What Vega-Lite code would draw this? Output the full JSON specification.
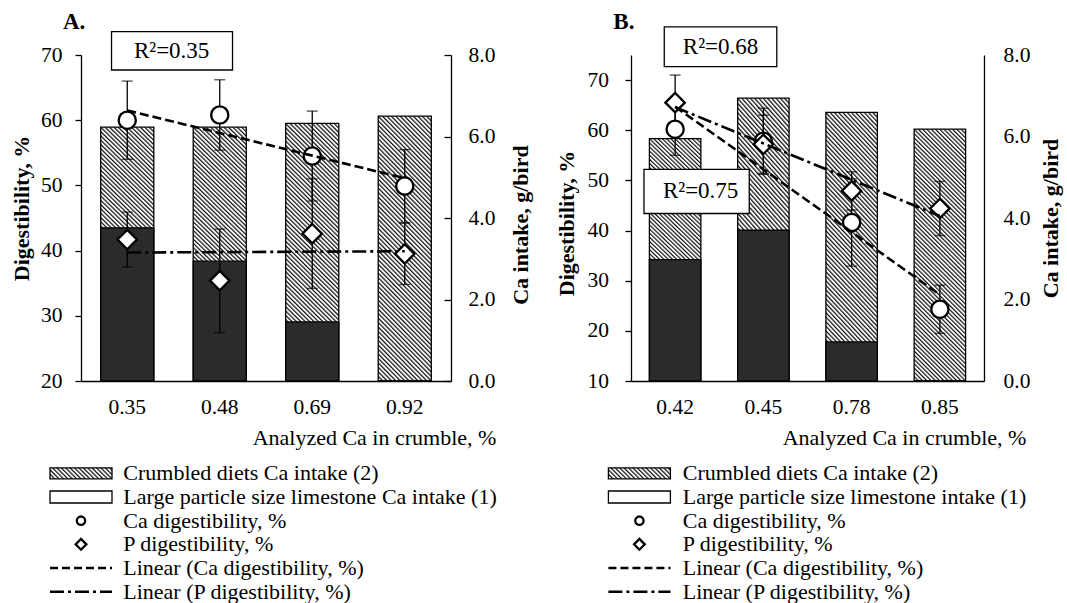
{
"$schema": "https://vega.github.io/schema/vega-lite/v6.json",
"autosize": {"type": "none"},
"padding": {"left": 81, "top": 55, "right": 986, "bottom": 548},
"background": "white",
"bounds": "flush",
"columns": 2,
"spacing": {"row": 80.5, "column": 180},
"config": {
  "font": "Liberation Serif",
  "view": {"stroke": null},
  "axis": {"domainColor": "#000", "domainWidth": 1.3, "tickColor": "#000", "tickWidth": 1.3, "labelColor": "#000", "titleColor": "#000", "labelFontSize": 21.5, "titleFontSize": 22, "grid": false, "labelFont": "Liberation Serif", "titleFont": "Liberation Serif", "labelOverlap": false},
  "text": {"color": "#000", "font": "Liberation Serif"}
},
"concat": [
  {
    "width": 370, "height": 326,
    "data": {"values": [
      {"ca": "0.35", "total": 6.23, "large": 3.76, "ca_dig": 60.0, "ca_lo": 54.0, "ca_hi": 66.0, "p_dig": 41.7, "p_lo": 37.5, "p_hi": 45.9},
      {"ca": "0.48", "total": 6.23, "large": 2.94, "ca_dig": 60.8, "ca_lo": 55.4, "ca_hi": 66.2, "p_dig": 35.4, "p_lo": 27.4, "p_hi": 43.3},
      {"ca": "0.69", "total": 6.32, "large": 1.45, "ca_dig": 54.5, "ca_lo": 47.6, "ca_hi": 61.4, "p_dig": 42.6, "p_lo": 34.2, "p_hi": 51.0},
      {"ca": "0.92", "total": 6.50, "large": 0, "ca_dig": 49.9, "ca_lo": 44.3, "ca_hi": 55.5, "p_dig": 39.5, "p_lo": 34.8, "p_hi": 44.2}
    ]},
    "layer": [
      {"layer": [
        {"mark": {"type": "bar", "stroke": "#000", "strokeWidth": 1.3, "fill": {"gradient": "linear", "x1": 0, "y1": 1, "x2": 0.3312, "y2": -0.6248, "stops": [
{"offset":0,"color":"#111"},{"offset":0.005,"color":"#fff"},{"offset":0.007,"color":"#fff"},
{"offset":0.01,"color":"#111"},{"offset":0.015,"color":"#fff"},{"offset":0.017,"color":"#fff"},
{"offset":0.02,"color":"#111"},{"offset":0.025,"color":"#fff"},{"offset":0.027,"color":"#fff"},
{"offset":0.03,"color":"#111"},{"offset":0.035,"color":"#fff"},{"offset":0.037,"color":"#fff"},
{"offset":0.04,"color":"#111"},{"offset":0.045,"color":"#fff"},{"offset":0.047,"color":"#fff"},
{"offset":0.05,"color":"#111"},{"offset":0.055,"color":"#fff"},{"offset":0.057,"color":"#fff"},
{"offset":0.06,"color":"#111"},{"offset":0.065,"color":"#fff"},{"offset":0.067,"color":"#fff"},
{"offset":0.07,"color":"#111"},{"offset":0.075,"color":"#fff"},{"offset":0.077,"color":"#fff"},
{"offset":0.08,"color":"#111"},{"offset":0.085,"color":"#fff"},{"offset":0.087,"color":"#fff"},
{"offset":0.09,"color":"#111"},{"offset":0.095,"color":"#fff"},{"offset":0.097,"color":"#fff"},
{"offset":0.1,"color":"#111"},{"offset":0.105,"color":"#fff"},{"offset":0.107,"color":"#fff"},
{"offset":0.11,"color":"#111"},{"offset":0.115,"color":"#fff"},{"offset":0.117,"color":"#fff"},
{"offset":0.12,"color":"#111"},{"offset":0.125,"color":"#fff"},{"offset":0.127,"color":"#fff"},
{"offset":0.13,"color":"#111"},{"offset":0.135,"color":"#fff"},{"offset":0.137,"color":"#fff"},
{"offset":0.14,"color":"#111"},{"offset":0.145,"color":"#fff"},{"offset":0.147,"color":"#fff"},
{"offset":0.15,"color":"#111"},{"offset":0.155,"color":"#fff"},{"offset":0.157,"color":"#fff"},
{"offset":0.16,"color":"#111"},{"offset":0.165,"color":"#fff"},{"offset":0.167,"color":"#fff"},
{"offset":0.17,"color":"#111"},{"offset":0.175,"color":"#fff"},{"offset":0.177,"color":"#fff"},
{"offset":0.18,"color":"#111"},{"offset":0.185,"color":"#fff"},{"offset":0.187,"color":"#fff"},
{"offset":0.19,"color":"#111"},{"offset":0.195,"color":"#fff"},{"offset":0.197,"color":"#fff"},
{"offset":0.2,"color":"#111"},{"offset":0.205,"color":"#fff"},{"offset":0.207,"color":"#fff"},
{"offset":0.21,"color":"#111"},{"offset":0.215,"color":"#fff"},{"offset":0.217,"color":"#fff"},
{"offset":0.22,"color":"#111"},{"offset":0.225,"color":"#fff"},{"offset":0.227,"color":"#fff"},
{"offset":0.23,"color":"#111"},{"offset":0.235,"color":"#fff"},{"offset":0.237,"color":"#fff"},
{"offset":0.24,"color":"#111"},{"offset":0.245,"color":"#fff"},{"offset":0.247,"color":"#fff"},
{"offset":0.25,"color":"#111"},{"offset":0.255,"color":"#fff"},{"offset":0.257,"color":"#fff"},
{"offset":0.26,"color":"#111"},{"offset":0.265,"color":"#fff"},{"offset":0.267,"color":"#fff"},
{"offset":0.27,"color":"#111"},{"offset":0.275,"color":"#fff"},{"offset":0.277,"color":"#fff"},
{"offset":0.28,"color":"#111"},{"offset":0.285,"color":"#fff"},{"offset":0.287,"color":"#fff"},
{"offset":0.29,"color":"#111"},{"offset":0.295,"color":"#fff"},{"offset":0.297,"color":"#fff"},
{"offset":0.3,"color":"#111"},{"offset":0.305,"color":"#fff"},{"offset":0.307,"color":"#fff"},
{"offset":0.31,"color":"#111"},{"offset":0.315,"color":"#fff"},{"offset":0.317,"color":"#fff"},
{"offset":0.32,"color":"#111"},{"offset":0.325,"color":"#fff"},{"offset":0.327,"color":"#fff"},
{"offset":0.33,"color":"#111"},{"offset":0.335,"color":"#fff"},{"offset":0.337,"color":"#fff"},
{"offset":0.34,"color":"#111"},{"offset":0.345,"color":"#fff"},{"offset":0.347,"color":"#fff"},
{"offset":0.35,"color":"#111"},{"offset":0.355,"color":"#fff"},{"offset":0.357,"color":"#fff"},
{"offset":0.36,"color":"#111"},{"offset":0.365,"color":"#fff"},{"offset":0.367,"color":"#fff"},
{"offset":0.37,"color":"#111"},{"offset":0.375,"color":"#fff"},{"offset":0.377,"color":"#fff"},
{"offset":0.38,"color":"#111"},{"offset":0.385,"color":"#fff"},{"offset":0.387,"color":"#fff"},
{"offset":0.39,"color":"#111"},{"offset":0.395,"color":"#fff"},{"offset":0.397,"color":"#fff"},
{"offset":0.4,"color":"#111"},{"offset":0.405,"color":"#fff"},{"offset":0.407,"color":"#fff"},
{"offset":0.41,"color":"#111"},{"offset":0.415,"color":"#fff"},{"offset":0.417,"color":"#fff"},
{"offset":0.42,"color":"#111"},{"offset":0.425,"color":"#fff"},{"offset":0.427,"color":"#fff"},
{"offset":0.43,"color":"#111"},{"offset":0.435,"color":"#fff"},{"offset":0.437,"color":"#fff"},
{"offset":0.44,"color":"#111"},{"offset":0.445,"color":"#fff"},{"offset":0.447,"color":"#fff"},
{"offset":0.45,"color":"#111"},{"offset":0.455,"color":"#fff"},{"offset":0.457,"color":"#fff"},
{"offset":0.46,"color":"#111"},{"offset":0.465,"color":"#fff"},{"offset":0.467,"color":"#fff"},
{"offset":0.47,"color":"#111"},{"offset":0.475,"color":"#fff"},{"offset":0.477,"color":"#fff"},
{"offset":0.48,"color":"#111"},{"offset":0.485,"color":"#fff"},{"offset":0.487,"color":"#fff"},
{"offset":0.49,"color":"#111"},{"offset":0.495,"color":"#fff"},{"offset":0.497,"color":"#fff"},
{"offset":0.5,"color":"#111"},{"offset":0.505,"color":"#fff"},{"offset":0.507,"color":"#fff"},
{"offset":0.51,"color":"#111"},{"offset":0.515,"color":"#fff"},{"offset":0.517,"color":"#fff"},
{"offset":0.52,"color":"#111"},{"offset":0.525,"color":"#fff"},{"offset":0.527,"color":"#fff"},
{"offset":0.53,"color":"#111"},{"offset":0.535,"color":"#fff"},{"offset":0.537,"color":"#fff"},
{"offset":0.54,"color":"#111"},{"offset":0.545,"color":"#fff"},{"offset":0.547,"color":"#fff"},
{"offset":0.55,"color":"#111"},{"offset":0.555,"color":"#fff"},{"offset":0.557,"color":"#fff"},
{"offset":0.56,"color":"#111"},{"offset":0.565,"color":"#fff"},{"offset":0.567,"color":"#fff"},
{"offset":0.57,"color":"#111"},{"offset":0.575,"color":"#fff"},{"offset":0.577,"color":"#fff"},
{"offset":0.58,"color":"#111"},{"offset":0.585,"color":"#fff"},{"offset":0.587,"color":"#fff"},
{"offset":0.59,"color":"#111"},{"offset":0.595,"color":"#fff"},{"offset":0.597,"color":"#fff"},
{"offset":0.6,"color":"#111"},{"offset":0.605,"color":"#fff"},{"offset":0.607,"color":"#fff"},
{"offset":0.61,"color":"#111"},{"offset":0.615,"color":"#fff"},{"offset":0.617,"color":"#fff"},
{"offset":0.62,"color":"#111"},{"offset":0.625,"color":"#fff"},{"offset":0.627,"color":"#fff"},
{"offset":0.63,"color":"#111"},{"offset":0.635,"color":"#fff"},{"offset":0.637,"color":"#fff"},
{"offset":0.64,"color":"#111"},{"offset":0.645,"color":"#fff"},{"offset":0.647,"color":"#fff"},
{"offset":0.65,"color":"#111"},{"offset":0.655,"color":"#fff"},{"offset":0.657,"color":"#fff"},
{"offset":0.66,"color":"#111"},{"offset":0.665,"color":"#fff"},{"offset":0.667,"color":"#fff"},
{"offset":0.67,"color":"#111"},{"offset":0.675,"color":"#fff"},{"offset":0.677,"color":"#fff"},
{"offset":0.68,"color":"#111"},{"offset":0.685,"color":"#fff"},{"offset":0.687,"color":"#fff"},
{"offset":0.69,"color":"#111"},{"offset":0.695,"color":"#fff"},{"offset":0.697,"color":"#fff"},
{"offset":0.7,"color":"#111"},{"offset":0.705,"color":"#fff"},{"offset":0.707,"color":"#fff"},
{"offset":0.71,"color":"#111"},{"offset":0.715,"color":"#fff"},{"offset":0.717,"color":"#fff"}
        ]}},
         "encoding": {
           "x": {"field": "ca", "type": "ordinal", "title": "Analyzed Ca in crumble, %", "scale": {"domain": ["0.35", "0.48", "0.69", "0.92"], "paddingInner": 0.426, "paddingOuter": 0.213},
                 "axis": {"orient": "bottom", "ticks": false, "labelPadding": 15, "labelAngle": 0, "titleX": 293, "titleY": 63, "titleAlign": "center", "titleBaseline": "alphabetic", "titleFontWeight": "normal", "titleFontSize": 22}},
           "y": {"field": "total", "type": "quantitative", "title": "Ca intake, g/bird", "scale": {"domain": [0, 8], "nice": false, "zero": true},
                 "axis": {"orient": "right", "values": [0, 2, 4, 6, 8], "format": ".1f", "tickSize": -7, "labelPadding": 24, "titleX": 69, "titleY": 169.6, "titleAngle": 270, "titleAlign": "center", "titleBaseline": "middle", "titleFontWeight": "bold"}}
         }},
        {"mark": {"type": "bar", "fill": "#2b2b2b", "stroke": "#000", "strokeWidth": 1.3},
         "encoding": {
           "x": {"field": "ca", "type": "ordinal", "title": "Analyzed Ca in crumble, %", "scale": {"domain": ["0.35", "0.48", "0.69", "0.92"], "paddingInner": 0.426, "paddingOuter": 0.213}},
           "y": {"field": "large", "type": "quantitative", "title": "Ca intake, g/bird", "scale": {"domain": [0, 8], "nice": false, "zero": true}}
         }}
      ]},
      {"layer": [
        {"mark": {"type": "errorbar", "ticks": {"size": 11, "thickness": 1.3, "color": "#000"}, "rule": {"strokeWidth": 1.3, "color": "#000"}},
         "encoding": {
           "x": {"field": "ca", "type": "ordinal", "scale": {"domain": ["0.35", "0.48", "0.69", "0.92"], "paddingInner": 0.426, "paddingOuter": 0.213}, "axis": null},
           "y": {"field": "ca_lo", "type": "quantitative", "title": "Digestibility, %", "scale": {"domain": [20, 70], "nice": false, "zero": false},
                 "axis": {"orient": "left", "values": [20, 30, 40, 50, 60, 70], "tickSize": 6, "labelPadding": 13, "titleX": -59.3, "titleY": 153, "titleAngle": 270, "titleAlign": "center", "titleBaseline": "middle", "titleFontWeight": "bold"}},
           "y2": {"field": "ca_hi"}
         }},
        {"mark": {"type": "errorbar", "ticks": {"size": 11, "thickness": 1.3, "color": "#000"}, "rule": {"strokeWidth": 1.3, "color": "#000"}},
         "encoding": {
           "x": {"field": "ca", "type": "ordinal", "scale": {"domain": ["0.35", "0.48", "0.69", "0.92"], "paddingInner": 0.426, "paddingOuter": 0.213}, "axis": null},
           "y": {"field": "p_lo", "type": "quantitative", "title": "Digestibility, %", "scale": {"domain": [20, 70], "nice": false, "zero": false}},
           "y2": {"field": "p_hi"}
         }},
        {"mark": {"type": "point", "shape": "circle", "size": 296, "filled": true, "fill": "#fff", "stroke": "#000", "strokeWidth": 2.3, "opacity": 1},
         "encoding": {
           "x": {"field": "ca", "type": "ordinal", "scale": {"domain": ["0.35", "0.48", "0.69", "0.92"], "paddingInner": 0.426, "paddingOuter": 0.213}, "axis": null},
           "y": {"field": "ca_dig", "type": "quantitative", "title": "Digestibility, %", "scale": {"domain": [20, 70], "nice": false, "zero": false}}
         }},
        {"mark": {"type": "point", "shape": "diamond", "size": 376, "filled": true, "fill": "#fff", "stroke": "#000", "strokeWidth": 2.3, "opacity": 1},
         "encoding": {
           "x": {"field": "ca", "type": "ordinal", "scale": {"domain": ["0.35", "0.48", "0.69", "0.92"], "paddingInner": 0.426, "paddingOuter": 0.213}, "axis": null},
           "y": {"field": "p_dig", "type": "quantitative", "title": "Digestibility, %", "scale": {"domain": [20, 70], "nice": false, "zero": false}}
         }},
        {"data": {"values": [{"ca": "0.35", "fit": 61.5}, {"ca": "0.92", "fit": 51.1}]},
         "mark": {"type": "line", "stroke": "#000", "strokeWidth": 2.6, "strokeDash": [9, 4]},
         "encoding": {
           "x": {"field": "ca", "type": "ordinal", "scale": {"domain": ["0.35", "0.48", "0.69", "0.92"], "paddingInner": 0.426, "paddingOuter": 0.213}, "axis": null},
           "y": {"field": "fit", "type": "quantitative", "title": "Digestibility, %", "scale": {"domain": [20, 70], "nice": false, "zero": false}}
         }},
        {"data": {"values": [{"ca": "0.35", "fit": 39.7}, {"ca": "0.92", "fit": 39.9}]},
         "mark": {"type": "line", "stroke": "#000", "strokeWidth": 2.6, "strokeDash": [14, 4, 3, 4]},
         "encoding": {
           "x": {"field": "ca", "type": "ordinal", "scale": {"domain": ["0.35", "0.48", "0.69", "0.92"], "paddingInner": 0.426, "paddingOuter": 0.213}, "axis": null},
           "y": {"field": "fit", "type": "quantitative", "title": "Digestibility, %", "scale": {"domain": [20, 70], "nice": false, "zero": false}}
         }}
      ]},
      {"layer": [
        {"data": {"values": [{"label": "R²=0.35"}]},
         "mark": {"type": "rect", "fill": "#fff", "stroke": "#000", "strokeWidth": 1.3},
         "encoding": {
           "x": {"datum": 0.83, "type": "quantitative", "scale": {"domain": [0.5, 4.5], "nice": false, "zero": false}, "axis": null},
           "x2": {"datum": 2.138},
           "y": {"datum": 73.6, "type": "quantitative", "scale": {"domain": [20, 70], "nice": false, "zero": false}, "axis": null},
           "y2": {"datum": 67.7}
         }},
        {"data": {"values": [{"label": "R²=0.35"}]},
         "mark": {"type": "text", "fontSize": 23, "align": "center", "baseline": "middle", "color": "#000"},
         "encoding": {
           "x": {"datum": 1.48, "type": "quantitative"},
           "y": {"datum": 70.66, "type": "quantitative"},
           "text": {"field": "label"}
         }},
        {"data": {"values": [{"label": "A."}]},
         "mark": {"type": "text", "fontSize": 23, "fontWeight": "bold", "align": "left", "baseline": "alphabetic", "color": "#000"},
         "encoding": {
           "x": {"datum": 0.305, "type": "quantitative"},
           "y": {"datum": 73.98, "type": "quantitative"},
           "text": {"field": "label"}
         }}
      ]}
    ],
    "resolve": {"scale": {"x": "independent", "y": "independent"}}
  },
  {
    "width": 353, "height": 326,
    "data": {"values": [
      {"ca": "0.42", "total": 5.95, "large": 2.98, "ca_dig": 60.2, "ca_lo": 55.0, "ca_hi": 65.4, "p_dig": 65.5, "p_lo": 60.0, "p_hi": 71.0},
      {"ca": "0.45", "total": 6.94, "large": 3.70, "ca_dig": 57.8, "ca_lo": 51.2, "ca_hi": 64.4, "p_dig": 57.2, "p_lo": 51.4, "p_hi": 63.0},
      {"ca": "0.78", "total": 6.59, "large": 0.96, "ca_dig": 41.6, "ca_lo": 32.9, "ca_hi": 50.3, "p_dig": 47.9, "p_lo": 44.1, "p_hi": 51.7},
      {"ca": "0.85", "total": 6.18, "large": 0, "ca_dig": 24.3, "ca_lo": 19.5, "ca_hi": 29.1, "p_dig": 44.4, "p_lo": 39.0, "p_hi": 49.8}
    ]},
    "layer": [
      {"layer": [
        {"mark": {"type": "bar", "stroke": "#000", "strokeWidth": 1.3, "fill": {"gradient": "linear", "x1": 0, "y1": 1, "x2": 0.3312, "y2": -0.6248, "stops": [
{"offset":0,"color":"#111"},{"offset":0.005,"color":"#fff"},{"offset":0.007,"color":"#fff"},
{"offset":0.01,"color":"#111"},{"offset":0.015,"color":"#fff"},{"offset":0.017,"color":"#fff"},
{"offset":0.02,"color":"#111"},{"offset":0.025,"color":"#fff"},{"offset":0.027,"color":"#fff"},
{"offset":0.03,"color":"#111"},{"offset":0.035,"color":"#fff"},{"offset":0.037,"color":"#fff"},
{"offset":0.04,"color":"#111"},{"offset":0.045,"color":"#fff"},{"offset":0.047,"color":"#fff"},
{"offset":0.05,"color":"#111"},{"offset":0.055,"color":"#fff"},{"offset":0.057,"color":"#fff"},
{"offset":0.06,"color":"#111"},{"offset":0.065,"color":"#fff"},{"offset":0.067,"color":"#fff"},
{"offset":0.07,"color":"#111"},{"offset":0.075,"color":"#fff"},{"offset":0.077,"color":"#fff"},
{"offset":0.08,"color":"#111"},{"offset":0.085,"color":"#fff"},{"offset":0.087,"color":"#fff"},
{"offset":0.09,"color":"#111"},{"offset":0.095,"color":"#fff"},{"offset":0.097,"color":"#fff"},
{"offset":0.1,"color":"#111"},{"offset":0.105,"color":"#fff"},{"offset":0.107,"color":"#fff"},
{"offset":0.11,"color":"#111"},{"offset":0.115,"color":"#fff"},{"offset":0.117,"color":"#fff"},
{"offset":0.12,"color":"#111"},{"offset":0.125,"color":"#fff"},{"offset":0.127,"color":"#fff"},
{"offset":0.13,"color":"#111"},{"offset":0.135,"color":"#fff"},{"offset":0.137,"color":"#fff"},
{"offset":0.14,"color":"#111"},{"offset":0.145,"color":"#fff"},{"offset":0.147,"color":"#fff"},
{"offset":0.15,"color":"#111"},{"offset":0.155,"color":"#fff"},{"offset":0.157,"color":"#fff"},
{"offset":0.16,"color":"#111"},{"offset":0.165,"color":"#fff"},{"offset":0.167,"color":"#fff"},
{"offset":0.17,"color":"#111"},{"offset":0.175,"color":"#fff"},{"offset":0.177,"color":"#fff"},
{"offset":0.18,"color":"#111"},{"offset":0.185,"color":"#fff"},{"offset":0.187,"color":"#fff"},
{"offset":0.19,"color":"#111"},{"offset":0.195,"color":"#fff"},{"offset":0.197,"color":"#fff"},
{"offset":0.2,"color":"#111"},{"offset":0.205,"color":"#fff"},{"offset":0.207,"color":"#fff"},
{"offset":0.21,"color":"#111"},{"offset":0.215,"color":"#fff"},{"offset":0.217,"color":"#fff"},
{"offset":0.22,"color":"#111"},{"offset":0.225,"color":"#fff"},{"offset":0.227,"color":"#fff"},
{"offset":0.23,"color":"#111"},{"offset":0.235,"color":"#fff"},{"offset":0.237,"color":"#fff"},
{"offset":0.24,"color":"#111"},{"offset":0.245,"color":"#fff"},{"offset":0.247,"color":"#fff"},
{"offset":0.25,"color":"#111"},{"offset":0.255,"color":"#fff"},{"offset":0.257,"color":"#fff"},
{"offset":0.26,"color":"#111"},{"offset":0.265,"color":"#fff"},{"offset":0.267,"color":"#fff"},
{"offset":0.27,"color":"#111"},{"offset":0.275,"color":"#fff"},{"offset":0.277,"color":"#fff"},
{"offset":0.28,"color":"#111"},{"offset":0.285,"color":"#fff"},{"offset":0.287,"color":"#fff"},
{"offset":0.29,"color":"#111"},{"offset":0.295,"color":"#fff"},{"offset":0.297,"color":"#fff"},
{"offset":0.3,"color":"#111"},{"offset":0.305,"color":"#fff"},{"offset":0.307,"color":"#fff"},
{"offset":0.31,"color":"#111"},{"offset":0.315,"color":"#fff"},{"offset":0.317,"color":"#fff"},
{"offset":0.32,"color":"#111"},{"offset":0.325,"color":"#fff"},{"offset":0.327,"color":"#fff"},
{"offset":0.33,"color":"#111"},{"offset":0.335,"color":"#fff"},{"offset":0.337,"color":"#fff"},
{"offset":0.34,"color":"#111"},{"offset":0.345,"color":"#fff"},{"offset":0.347,"color":"#fff"},
{"offset":0.35,"color":"#111"},{"offset":0.355,"color":"#fff"},{"offset":0.357,"color":"#fff"},
{"offset":0.36,"color":"#111"},{"offset":0.365,"color":"#fff"},{"offset":0.367,"color":"#fff"},
{"offset":0.37,"color":"#111"},{"offset":0.375,"color":"#fff"},{"offset":0.377,"color":"#fff"},
{"offset":0.38,"color":"#111"},{"offset":0.385,"color":"#fff"},{"offset":0.387,"color":"#fff"},
{"offset":0.39,"color":"#111"},{"offset":0.395,"color":"#fff"},{"offset":0.397,"color":"#fff"},
{"offset":0.4,"color":"#111"},{"offset":0.405,"color":"#fff"},{"offset":0.407,"color":"#fff"},
{"offset":0.41,"color":"#111"},{"offset":0.415,"color":"#fff"},{"offset":0.417,"color":"#fff"},
{"offset":0.42,"color":"#111"},{"offset":0.425,"color":"#fff"},{"offset":0.427,"color":"#fff"},
{"offset":0.43,"color":"#111"},{"offset":0.435,"color":"#fff"},{"offset":0.437,"color":"#fff"},
{"offset":0.44,"color":"#111"},{"offset":0.445,"color":"#fff"},{"offset":0.447,"color":"#fff"},
{"offset":0.45,"color":"#111"},{"offset":0.455,"color":"#fff"},{"offset":0.457,"color":"#fff"},
{"offset":0.46,"color":"#111"},{"offset":0.465,"color":"#fff"},{"offset":0.467,"color":"#fff"},
{"offset":0.47,"color":"#111"},{"offset":0.475,"color":"#fff"},{"offset":0.477,"color":"#fff"},
{"offset":0.48,"color":"#111"},{"offset":0.485,"color":"#fff"},{"offset":0.487,"color":"#fff"},
{"offset":0.49,"color":"#111"},{"offset":0.495,"color":"#fff"},{"offset":0.497,"color":"#fff"},
{"offset":0.5,"color":"#111"},{"offset":0.505,"color":"#fff"},{"offset":0.507,"color":"#fff"},
{"offset":0.51,"color":"#111"},{"offset":0.515,"color":"#fff"},{"offset":0.517,"color":"#fff"},
{"offset":0.52,"color":"#111"},{"offset":0.525,"color":"#fff"},{"offset":0.527,"color":"#fff"},
{"offset":0.53,"color":"#111"},{"offset":0.535,"color":"#fff"},{"offset":0.537,"color":"#fff"},
{"offset":0.54,"color":"#111"},{"offset":0.545,"color":"#fff"},{"offset":0.547,"color":"#fff"},
{"offset":0.55,"color":"#111"},{"offset":0.555,"color":"#fff"},{"offset":0.557,"color":"#fff"},
{"offset":0.56,"color":"#111"},{"offset":0.565,"color":"#fff"},{"offset":0.567,"color":"#fff"},
{"offset":0.57,"color":"#111"},{"offset":0.575,"color":"#fff"},{"offset":0.577,"color":"#fff"},
{"offset":0.58,"color":"#111"},{"offset":0.585,"color":"#fff"},{"offset":0.587,"color":"#fff"},
{"offset":0.59,"color":"#111"},{"offset":0.595,"color":"#fff"},{"offset":0.597,"color":"#fff"},
{"offset":0.6,"color":"#111"},{"offset":0.605,"color":"#fff"},{"offset":0.607,"color":"#fff"},
{"offset":0.61,"color":"#111"},{"offset":0.615,"color":"#fff"},{"offset":0.617,"color":"#fff"},
{"offset":0.62,"color":"#111"},{"offset":0.625,"color":"#fff"},{"offset":0.627,"color":"#fff"},
{"offset":0.63,"color":"#111"},{"offset":0.635,"color":"#fff"},{"offset":0.637,"color":"#fff"},
{"offset":0.64,"color":"#111"},{"offset":0.645,"color":"#fff"},{"offset":0.647,"color":"#fff"},
{"offset":0.65,"color":"#111"},{"offset":0.655,"color":"#fff"},{"offset":0.657,"color":"#fff"},
{"offset":0.66,"color":"#111"},{"offset":0.665,"color":"#fff"},{"offset":0.667,"color":"#fff"},
{"offset":0.67,"color":"#111"},{"offset":0.675,"color":"#fff"},{"offset":0.677,"color":"#fff"},
{"offset":0.68,"color":"#111"},{"offset":0.685,"color":"#fff"},{"offset":0.687,"color":"#fff"},
{"offset":0.69,"color":"#111"},{"offset":0.695,"color":"#fff"},{"offset":0.697,"color":"#fff"},
{"offset":0.7,"color":"#111"},{"offset":0.705,"color":"#fff"},{"offset":0.707,"color":"#fff"},
{"offset":0.71,"color":"#111"},{"offset":0.715,"color":"#fff"},{"offset":0.717,"color":"#fff"}
        ]}},
         "encoding": {
           "x": {"field": "ca", "type": "ordinal", "title": "Analyzed Ca in crumble, %", "scale": {"domain": ["0.42", "0.45", "0.78", "0.85"], "paddingInner": 0.417, "paddingOuter": 0.2085},
                 "axis": {"orient": "bottom", "ticks": false, "labelPadding": 15, "labelAngle": 0, "titleX": 273, "titleY": 63, "titleAlign": "center", "titleBaseline": "alphabetic", "titleFontWeight": "normal", "titleFontSize": 22}},
           "y": {"field": "total", "type": "quantitative", "title": "Ca intake, g/bird", "scale": {"domain": [0, 8], "nice": false, "zero": true},
                 "axis": {"orient": "right", "values": [0, 2, 4, 6, 8], "format": ".1f", "ticks": false, "labelPadding": 19, "titleX": 66, "titleY": 163, "titleAngle": 270, "titleAlign": "center", "titleBaseline": "middle", "titleFontWeight": "bold"}}
         }},
        {"mark": {"type": "bar", "fill": "#2b2b2b", "stroke": "#000", "strokeWidth": 1.3},
         "encoding": {
           "x": {"field": "ca", "type": "ordinal", "title": "Analyzed Ca in crumble, %", "scale": {"domain": ["0.42", "0.45", "0.78", "0.85"], "paddingInner": 0.417, "paddingOuter": 0.2085}},
           "y": {"field": "large", "type": "quantitative", "title": "Ca intake, g/bird", "scale": {"domain": [0, 8], "nice": false, "zero": true}}
         }}
      ]},
      {"layer": [
        {"mark": {"type": "errorbar", "ticks": {"size": 11, "thickness": 1.3, "color": "#000"}, "rule": {"strokeWidth": 1.3, "color": "#000"}},
         "encoding": {
           "x": {"field": "ca", "type": "ordinal", "scale": {"domain": ["0.42", "0.45", "0.78", "0.85"], "paddingInner": 0.417, "paddingOuter": 0.2085}, "axis": null},
           "y": {"field": "ca_lo", "type": "quantitative", "title": "Digestibility, %", "scale": {"domain": [10, 75], "nice": false, "zero": false},
                 "axis": {"orient": "left", "values": [10, 20, 30, 40, 50, 60, 70], "tickSize": 6, "labelPadding": 16.5, "titleX": -65, "titleY": 168, "titleAngle": 270, "titleAlign": "center", "titleBaseline": "middle", "titleFontWeight": "bold"}},
           "y2": {"field": "ca_hi"}
         }},
        {"mark": {"type": "errorbar", "ticks": {"size": 11, "thickness": 1.3, "color": "#000"}, "rule": {"strokeWidth": 1.3, "color": "#000"}},
         "encoding": {
           "x": {"field": "ca", "type": "ordinal", "scale": {"domain": ["0.42", "0.45", "0.78", "0.85"], "paddingInner": 0.417, "paddingOuter": 0.2085}, "axis": null},
           "y": {"field": "p_lo", "type": "quantitative", "title": "Digestibility, %", "scale": {"domain": [10, 75], "nice": false, "zero": false}},
           "y2": {"field": "p_hi"}
         }},
        {"mark": {"type": "point", "shape": "circle", "size": 296, "filled": true, "fill": "#fff", "stroke": "#000", "strokeWidth": 2.3, "opacity": 1},
         "encoding": {
           "x": {"field": "ca", "type": "ordinal", "scale": {"domain": ["0.42", "0.45", "0.78", "0.85"], "paddingInner": 0.417, "paddingOuter": 0.2085}, "axis": null},
           "y": {"field": "ca_dig", "type": "quantitative", "title": "Digestibility, %", "scale": {"domain": [10, 75], "nice": false, "zero": false}}
         }},
        {"mark": {"type": "point", "shape": "diamond", "size": 376, "filled": true, "fill": "#fff", "stroke": "#000", "strokeWidth": 2.3, "opacity": 1},
         "encoding": {
           "x": {"field": "ca", "type": "ordinal", "scale": {"domain": ["0.42", "0.45", "0.78", "0.85"], "paddingInner": 0.417, "paddingOuter": 0.2085}, "axis": null},
           "y": {"field": "p_dig", "type": "quantitative", "title": "Digestibility, %", "scale": {"domain": [10, 75], "nice": false, "zero": false}}
         }},
        {"data": {"values": [{"ca": "0.42", "fit": 64.7}, {"ca": "0.85", "fit": 27.2}]},
         "mark": {"type": "line", "stroke": "#000", "strokeWidth": 2.6, "strokeDash": [9, 4]},
         "encoding": {
           "x": {"field": "ca", "type": "ordinal", "scale": {"domain": ["0.42", "0.45", "0.78", "0.85"], "paddingInner": 0.417, "paddingOuter": 0.2085}, "axis": null},
           "y": {"field": "fit", "type": "quantitative", "title": "Digestibility, %", "scale": {"domain": [10, 75], "nice": false, "zero": false}}
         }},
        {"data": {"values": [{"ca": "0.42", "fit": 64.6}, {"ca": "0.85", "fit": 42.9}]},
         "mark": {"type": "line", "stroke": "#000", "strokeWidth": 2.6, "strokeDash": [14, 4, 3, 4]},
         "encoding": {
           "x": {"field": "ca", "type": "ordinal", "scale": {"domain": ["0.42", "0.45", "0.78", "0.85"], "paddingInner": 0.417, "paddingOuter": 0.2085}, "axis": null},
           "y": {"field": "fit", "type": "quantitative", "title": "Digestibility, %", "scale": {"domain": [10, 75], "nice": false, "zero": false}}
         }}
      ]},
      {"layer": [
        {"data": {"values": [{"label": "R²=0.68"}]},
         "mark": {"type": "rect", "fill": "#fff", "stroke": "#000", "strokeWidth": 1.3},
         "encoding": {
           "x": {"datum": 0.877, "type": "quantitative", "scale": {"domain": [0.5, 4.5], "nice": false, "zero": false}, "axis": null},
           "x2": {"datum": 2.152},
           "y": {"datum": 80.6, "type": "quantitative", "scale": {"domain": [10, 75], "nice": false, "zero": false}, "axis": null},
           "y2": {"datum": 72.7}
         }},
        {"data": {"values": [{"label": "R²=0.68"}]},
         "mark": {"type": "text", "fontSize": 23, "align": "center", "baseline": "middle", "color": "#000"},
         "encoding": {
           "x": {"datum": 1.515, "type": "quantitative"},
           "y": {"datum": 76.66, "type": "quantitative"},
           "text": {"field": "label"}
         }},
        {"data": {"values": [{"label": "R²=0.75"}]},
         "mark": {"type": "rect", "fill": "#fff", "stroke": "#000", "strokeWidth": 1.3},
         "encoding": {
           "x": {"datum": 0.647, "type": "quantitative"},
           "x2": {"datum": 1.84},
           "y": {"datum": 52.2, "type": "quantitative"},
           "y2": {"datum": 43.4}
         }},
        {"data": {"values": [{"label": "R²=0.75"}]},
         "mark": {"type": "text", "fontSize": 23, "align": "center", "baseline": "middle", "color": "#000"},
         "encoding": {
           "x": {"datum": 1.289, "type": "quantitative"},
           "y": {"datum": 47.8, "type": "quantitative"},
           "text": {"field": "label"}
         }},
        {"data": {"values": [{"label": "B."}]},
         "mark": {"type": "text", "fontSize": 23, "fontWeight": "bold", "align": "left", "baseline": "alphabetic", "color": "#000"},
         "encoding": {
           "x": {"datum": 0.3, "type": "quantitative"},
           "y": {"datum": 80.27, "type": "quantitative"},
           "text": {"field": "label"}
         }}
      ]}
    ],
    "resolve": {"scale": {"x": "independent", "y": "independent"}}
  },
  {
    "width": 370, "height": 142,
    "data": {"values": [
      {"row": 1, "label": "Crumbled diets Ca intake (2)"},
      {"row": 2, "label": "Large particle size limestone Ca intake (1)"},
      {"row": 3, "label": "Ca digestibility, %"},
      {"row": 4, "label": "P digestibility, %"},
      {"row": 5, "label": "Linear (Ca digestibility, %)"},
      {"row": 6, "label": "Linear (P digestibility, %)"}
    ]},
    "layer": [
      {"mark": {"type": "text", "align": "left", "baseline": "middle", "fontSize": 22, "color": "#000"},
       "encoding": {
         "x": {"datum": 11.43, "type": "quantitative", "scale": {"domain": [0, 100], "nice": false, "zero": false}, "axis": null},
         "y": {"field": "row", "type": "ordinal", "scale": {"type": "point", "padding": 0.5, "domain": [1, 2, 3, 4, 5, 6]}, "axis": null},
         "text": {"field": "label"}
       }},
      {"transform": [{"filter": "datum.row == 1"}],
       "mark": {"type": "point", "shape": "M-1,-0.176H1V0.176H-1Z", "size": 3844, "filled": true, "stroke": "#000", "strokeWidth": 1.3, "opacity": 1,
                "fill": {"gradient": "linear", "x1": 0, "y1": 1, "x2": 6.88, "y2": -0.2207, "stops": [
{"offset":0,"color":"#111"},{"offset":0.005,"color":"#fff"},{"offset":0.007,"color":"#fff"},
{"offset":0.01,"color":"#111"},{"offset":0.015,"color":"#fff"},{"offset":0.017,"color":"#fff"},
{"offset":0.02,"color":"#111"},{"offset":0.025,"color":"#fff"},{"offset":0.027,"color":"#fff"},
{"offset":0.03,"color":"#111"},{"offset":0.035,"color":"#fff"},{"offset":0.037,"color":"#fff"},
{"offset":0.04,"color":"#111"},{"offset":0.045,"color":"#fff"},{"offset":0.047,"color":"#fff"},
{"offset":0.05,"color":"#111"},{"offset":0.055,"color":"#fff"},{"offset":0.057,"color":"#fff"},
{"offset":0.06,"color":"#111"},{"offset":0.065,"color":"#fff"},{"offset":0.067,"color":"#fff"},
{"offset":0.07,"color":"#111"},{"offset":0.075,"color":"#fff"},{"offset":0.077,"color":"#fff"},
{"offset":0.08,"color":"#111"},{"offset":0.085,"color":"#fff"},{"offset":0.087,"color":"#fff"},
{"offset":0.09,"color":"#111"},{"offset":0.095,"color":"#fff"},{"offset":0.097,"color":"#fff"},
{"offset":0.1,"color":"#111"},{"offset":0.105,"color":"#fff"},{"offset":0.107,"color":"#fff"},
{"offset":0.11,"color":"#111"},{"offset":0.115,"color":"#fff"},{"offset":0.117,"color":"#fff"},
{"offset":0.12,"color":"#111"},{"offset":0.125,"color":"#fff"},{"offset":0.127,"color":"#fff"},
{"offset":0.13,"color":"#111"},{"offset":0.135,"color":"#fff"},{"offset":0.137,"color":"#fff"},
{"offset":0.14,"color":"#111"},{"offset":0.145,"color":"#fff"},{"offset":0.147,"color":"#fff"},
{"offset":0.15,"color":"#111"},{"offset":0.155,"color":"#fff"},{"offset":0.157,"color":"#fff"},
{"offset":0.16,"color":"#111"},{"offset":0.165,"color":"#fff"},{"offset":0.167,"color":"#fff"}
                ]}},
       "encoding": {"x": {"datum": 0, "type": "quantitative"}, "y": {"field": "row", "type": "ordinal"}}},
      {"transform": [{"filter": "datum.row == 2"}],
       "mark": {"type": "point", "shape": "M-1,-0.194H1V0.194H-1Z", "size": 3844, "filled": true, "fill": "#fff", "stroke": "#000", "strokeWidth": 1.3, "opacity": 1},
       "encoding": {"x": {"datum": 0, "type": "quantitative"}, "y": {"field": "row", "type": "ordinal"}}},
      {"transform": [{"filter": "datum.row == 3"}],
       "mark": {"type": "point", "shape": "circle", "size": 69, "filled": true, "fill": "#fff", "stroke": "#000", "strokeWidth": 2.3, "opacity": 1},
       "encoding": {"x": {"datum": 0, "type": "quantitative"}, "y": {"field": "row", "type": "ordinal"}}},
      {"transform": [{"filter": "datum.row == 4"}],
       "mark": {"type": "point", "shape": "diamond", "size": 115, "filled": true, "fill": "#fff", "stroke": "#000", "strokeWidth": 2.3, "opacity": 1},
       "encoding": {"x": {"datum": 0, "type": "quantitative"}, "y": {"field": "row", "type": "ordinal"}}},
      {"transform": [{"filter": "datum.row == 5"}],
       "mark": {"type": "rule", "stroke": "#000", "strokeWidth": 2.5, "strokeDash": [8, 4]},
       "encoding": {"x": {"datum": -8.38, "type": "quantitative"}, "x2": {"datum": 8.38}, "y": {"field": "row", "type": "ordinal"}}},
      {"transform": [{"filter": "datum.row == 6"}],
       "mark": {"type": "rule", "stroke": "#000", "strokeWidth": 2.5, "strokeDash": [14, 4, 3, 4]},
       "encoding": {"x": {"datum": -8.38, "type": "quantitative"}, "x2": {"datum": 8.38}, "y": {"field": "row", "type": "ordinal"}}}
    ]
  },
  {
    "width": 353, "height": 142,
    "data": {"values": [
      {"row": 1, "label": "Crumbled diets Ca intake (2)"},
      {"row": 2, "label": "Large particle size limestone intake (1)"},
      {"row": 3, "label": "Ca digestibility, %"},
      {"row": 4, "label": "P digestibility, %"},
      {"row": 5, "label": "Linear (Ca digestibility, %)"},
      {"row": 6, "label": "Linear (P digestibility, %)"}
    ]},
    "layer": [
      {"mark": {"type": "text", "align": "left", "baseline": "middle", "fontSize": 22, "color": "#000"},
       "encoding": {
         "x": {"datum": 14.65, "type": "quantitative", "scale": {"domain": [0, 100], "nice": false, "zero": false}, "axis": null},
         "y": {"field": "row", "type": "ordinal", "scale": {"type": "point", "padding": 0.5, "domain": [1, 2, 3, 4, 5, 6]}, "axis": null},
         "text": {"field": "label"}
       }},
      {"transform": [{"filter": "datum.row == 1"}],
       "mark": {"type": "point", "shape": "M-1,-0.176H1V0.176H-1Z", "size": 3844, "filled": true, "stroke": "#000", "strokeWidth": 1.3, "opacity": 1,
                "fill": {"gradient": "linear", "x1": 0, "y1": 1, "x2": 6.88, "y2": -0.2207, "stops": [
{"offset":0,"color":"#111"},{"offset":0.005,"color":"#fff"},{"offset":0.007,"color":"#fff"},
{"offset":0.01,"color":"#111"},{"offset":0.015,"color":"#fff"},{"offset":0.017,"color":"#fff"},
{"offset":0.02,"color":"#111"},{"offset":0.025,"color":"#fff"},{"offset":0.027,"color":"#fff"},
{"offset":0.03,"color":"#111"},{"offset":0.035,"color":"#fff"},{"offset":0.037,"color":"#fff"},
{"offset":0.04,"color":"#111"},{"offset":0.045,"color":"#fff"},{"offset":0.047,"color":"#fff"},
{"offset":0.05,"color":"#111"},{"offset":0.055,"color":"#fff"},{"offset":0.057,"color":"#fff"},
{"offset":0.06,"color":"#111"},{"offset":0.065,"color":"#fff"},{"offset":0.067,"color":"#fff"},
{"offset":0.07,"color":"#111"},{"offset":0.075,"color":"#fff"},{"offset":0.077,"color":"#fff"},
{"offset":0.08,"color":"#111"},{"offset":0.085,"color":"#fff"},{"offset":0.087,"color":"#fff"},
{"offset":0.09,"color":"#111"},{"offset":0.095,"color":"#fff"},{"offset":0.097,"color":"#fff"},
{"offset":0.1,"color":"#111"},{"offset":0.105,"color":"#fff"},{"offset":0.107,"color":"#fff"},
{"offset":0.11,"color":"#111"},{"offset":0.115,"color":"#fff"},{"offset":0.117,"color":"#fff"},
{"offset":0.12,"color":"#111"},{"offset":0.125,"color":"#fff"},{"offset":0.127,"color":"#fff"},
{"offset":0.13,"color":"#111"},{"offset":0.135,"color":"#fff"},{"offset":0.137,"color":"#fff"},
{"offset":0.14,"color":"#111"},{"offset":0.145,"color":"#fff"},{"offset":0.147,"color":"#fff"},
{"offset":0.15,"color":"#111"},{"offset":0.155,"color":"#fff"},{"offset":0.157,"color":"#fff"},
{"offset":0.16,"color":"#111"},{"offset":0.165,"color":"#fff"},{"offset":0.167,"color":"#fff"}
                ]}},
       "encoding": {"x": {"datum": 2.38, "type": "quantitative"}, "y": {"field": "row", "type": "ordinal"}}},
      {"transform": [{"filter": "datum.row == 2"}],
       "mark": {"type": "point", "shape": "M-1,-0.194H1V0.194H-1Z", "size": 3844, "filled": true, "fill": "#fff", "stroke": "#000", "strokeWidth": 1.3, "opacity": 1},
       "encoding": {"x": {"datum": 2.38, "type": "quantitative"}, "y": {"field": "row", "type": "ordinal"}}},
      {"transform": [{"filter": "datum.row == 3"}],
       "mark": {"type": "point", "shape": "circle", "size": 69, "filled": true, "fill": "#fff", "stroke": "#000", "strokeWidth": 2.3, "opacity": 1},
       "encoding": {"x": {"datum": 2.38, "type": "quantitative"}, "y": {"field": "row", "type": "ordinal"}}},
      {"transform": [{"filter": "datum.row == 4"}],
       "mark": {"type": "point", "shape": "diamond", "size": 115, "filled": true, "fill": "#fff", "stroke": "#000", "strokeWidth": 2.3, "opacity": 1},
       "encoding": {"x": {"datum": 2.38, "type": "quantitative"}, "y": {"field": "row", "type": "ordinal"}}},
      {"transform": [{"filter": "datum.row == 5"}],
       "mark": {"type": "rule", "stroke": "#000", "strokeWidth": 2.5, "strokeDash": [8, 4]},
       "encoding": {"x": {"datum": -6.4, "type": "quantitative"}, "x2": {"datum": 11.2}, "y": {"field": "row", "type": "ordinal"}}},
      {"transform": [{"filter": "datum.row == 6"}],
       "mark": {"type": "rule", "stroke": "#000", "strokeWidth": 2.5, "strokeDash": [14, 4, 3, 4]},
       "encoding": {"x": {"datum": -6.4, "type": "quantitative"}, "x2": {"datum": 11.2}, "y": {"field": "row", "type": "ordinal"}}}
    ]
  }
]
}
